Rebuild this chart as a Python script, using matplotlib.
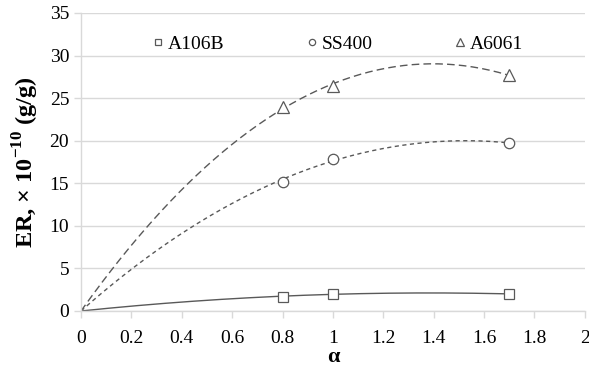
import numpy as np
import matplotlib
matplotlib.use("Agg")
import matplotlib.pyplot as plt

plt.rcParams['font.family'] = ['Liberation Serif', 'DejaVu Serif']
plt.rcParams['mathtext.fontset'] = 'custom'
plt.rcParams['mathtext.rm'] = 'Liberation Serif'
plt.rcParams['mathtext.bf'] = 'Liberation Serif:bold'

alpha = [0.8, 1.0, 1.7]
a106b = [1.7, 2.0, 2.0]
ss400 = [15.2, 17.9, 19.7]
a6061 = [24.0, 26.4, 27.7]

series = [
    ("A106B", a106b, "s", "-"),
    ("SS400", ss400, "o", (0, (3, 2.5))),
    ("A6061", a6061, "^", (0, (5.5, 3))),
]

gray = "#595959"
grid_c = "#d9d9d9"

fig = plt.figure(figsize=(5.89, 3.70), dpi=100)
ax = fig.add_axes([0.1375, 0.1595, 0.8555, 0.8055])

xx = np.linspace(0, 1.7, 200)
x = np.array(alpha)
for name, y, m, ls in series:
    # 2nd order trendline through origin
    A = np.column_stack([x, x ** 2])
    coef, *_ = np.linalg.lstsq(A, np.array(y), rcond=None)
    ax.plot(xx, coef[0] * xx + coef[1] * xx ** 2, color=gray, lw=1.0, linestyle=ls)
    ax.plot(alpha, y, linestyle="none", marker=m, markersize=7.5 if m != "^" else 8.5,
            markerfacecolor="white", markeredgecolor=gray, markeredgewidth=0.9,
            label=name, zorder=3)

ax.set_xlim(0, 2)
ax.set_ylim(0, 35)
ax.set_xticks(np.arange(0, 2.01, 0.2))
ax.set_xticklabels(["0", "0.2", "0.4", "0.6", "0.8", "1", "1.2", "1.4", "1.6", "1.8", "2"])
ax.set_yticks(range(0, 36, 5))
ax.yaxis.grid(True, color=grid_c, lw=1.0)
ax.set_axisbelow(True)
for s in ["top", "right"]:
    ax.spines[s].set_visible(False)
for s in ["left", "bottom"]:
    ax.spines[s].set_color(grid_c)
    ax.spines[s].set_linewidth(1.0)
ax.tick_params(axis="both", colors=grid_c, labelcolor="black", labelsize=14, length=5, width=1.0)
ax.tick_params(axis="x", pad=9)

ax.set_xlabel("α", fontsize=16, fontweight="bold", labelpad=0)
ax.set_ylabel("ER, × 10$^{\\mathbf{-10}}$ (g/g)", fontsize=17.5, fontweight="bold", labelpad=6)

leg = ax.legend(loc="upper center", ncol=3, frameon=False, fontsize=14,
                bbox_to_anchor=(0.505, 0.985), handletextpad=0.0, columnspacing=4.0,
                handlelength=1.0, markerscale=0.6)

fig.savefig("out.png", dpi=100)
